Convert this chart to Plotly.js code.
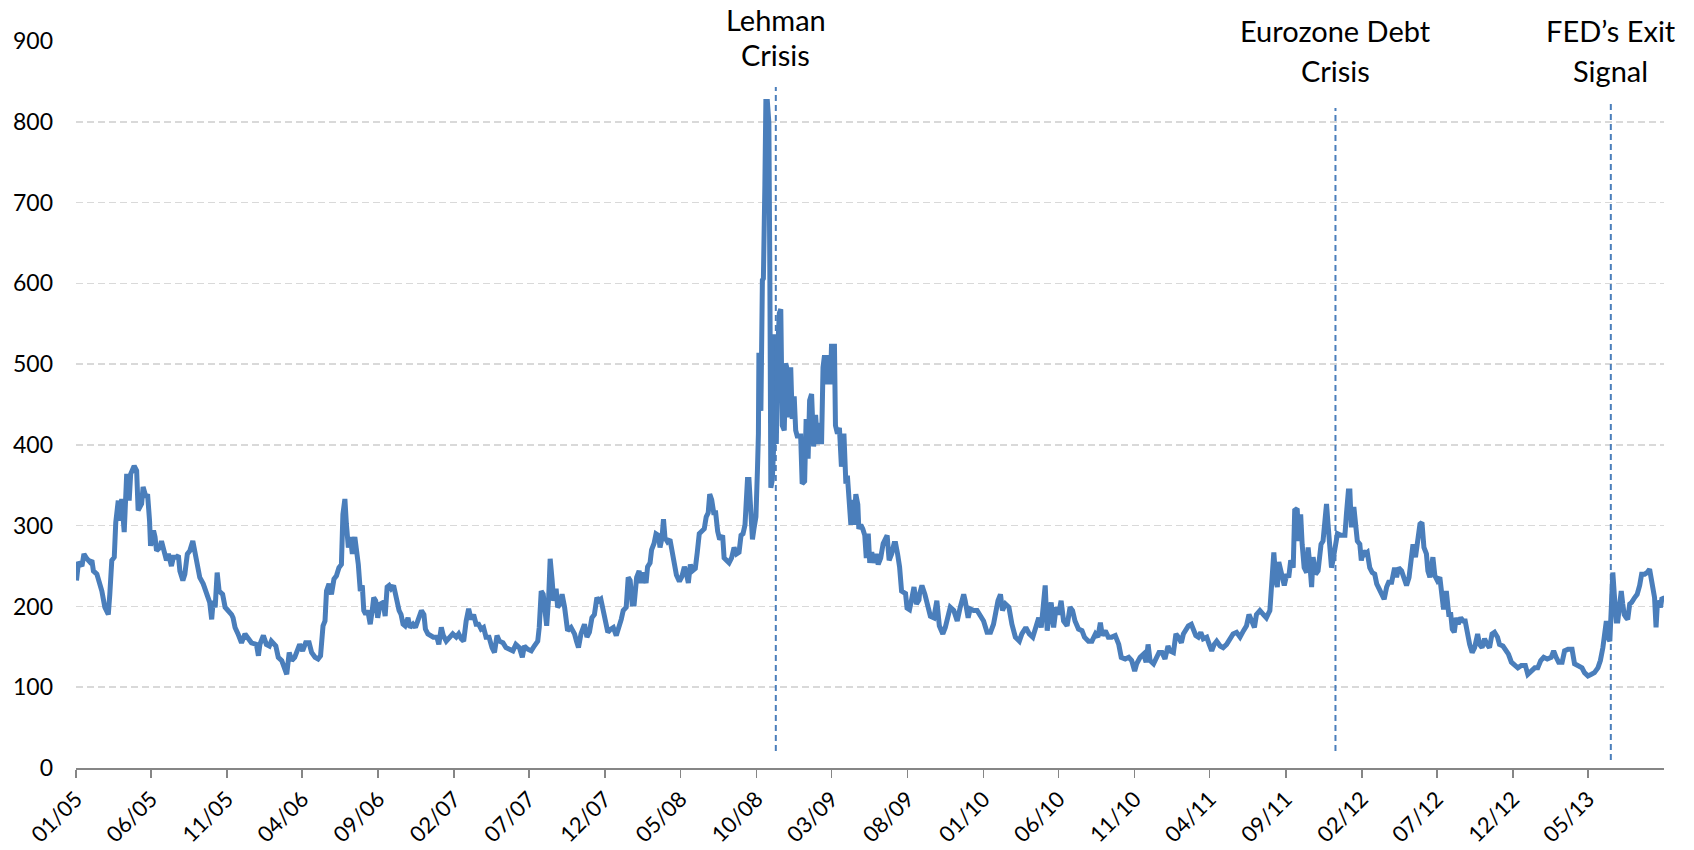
<!DOCTYPE html>
<html>
<head>
<meta charset="utf-8">
<script src="https://cdn.plot.ly/plotly-3.0.1.min.js"></script>
<style>html,body{margin:0;padding:0;background:#fff;}#chart{width:1694px;height:850px;}</style>
</head>
<body>
<div id="chart"></div>
<script>
// Observations: [days since 2005-01-01, spread value]
const obs2005_06 = [[1,232],[5,255],[12,250],[16,265],[22,259],[28,255],[32,257],[35,244],[42,240],[48,230],[52,219],[58,199],[65,190],[68,215],[72,257],[77,261],[80,304],[85,331],[89,306],[92,333],[97,292],[102,364],[107,331],[110,364],[117,374],[122,368],[125,319],[132,327],[135,348],[141,335],[144,339],[148,306],[150,275],[156,294],[159,286],[162,269],[169,273],[172,281],[177,265],[182,257],[186,265],[192,250],[196,261],[202,261],[206,263],[209,244],[215,232],[219,240],[224,265],[229,269],[235,281],[239,269],[243,257],[249,236],[256,228],[263,215],[269,205],[273,184],[276,207],[280,199],[284,242],[288,219],[295,215],[300,199],[306,195],[313,190],[316,186],[320,174],[326,166],[333,155],[340,166],[347,160],[353,155],[363,153],[367,139],[370,153],[377,164],[383,153],[389,151],[393,157],[402,151],[407,137],[414,133],[418,126],[424,116],[429,143],[434,133],[440,137],[445,145],[450,153],[456,145],[462,155],[469,155],[474,143],[481,137],[487,135],[492,139],[497,176],[501,182],[504,219],[509,228],[514,215],[519,234],[524,238],[529,248],[534,252],[537,314],[541,333],[544,302],[548,273],[552,286],[556,265],[561,286],[568,252]];
const obs2006_08 = [[572,219],[576,226],[579,195],[583,190],[587,195],[592,178],[596,195],[599,211],[603,207],[607,186],[612,203],[618,205],[622,188],[626,224],[630,226],[634,222],[639,226],[644,211],[650,195],[654,190],[658,178],[662,176],[668,186],[672,174],[678,178],[683,174],[689,186],[695,195],[700,190],[703,172],[708,166],[713,164],[719,162],[726,162],[730,153],[735,174],[739,164],[745,157],[752,162],[758,166],[765,162],[770,166],[775,160],[780,157],[785,182],[790,197],[795,184],[800,190],[805,178],[810,178],[815,172],[820,174],[825,162],[831,162],[837,149],[842,143],[847,164],[852,157],[859,155],[865,149],[872,147],[879,145],[885,153],[892,149],[898,137],[902,151],[909,147],[916,145],[922,151],[929,157],[932,174],[936,219],[940,215],[944,190],[947,176],[951,211],[954,259],[958,232],[961,207],[966,222],[969,199],[974,203],[978,215],[983,199],[989,170],[996,174],[1003,166],[1007,157],[1011,149],[1016,166],[1023,178],[1028,162],[1033,168],[1038,186],[1043,190],[1048,211],[1052,207],[1056,209],[1060,195],[1065,178],[1070,168],[1076,172],[1081,174],[1087,164],[1092,172],[1097,184],[1101,195],[1107,199],[1111,236],[1115,232],[1119,203],[1123,203],[1128,236],[1133,244]];
const obs2008_09 = [[1137,229],[1141,242],[1147,229],[1150,249],[1155,254],[1158,270],[1163,278],[1167,290],[1172,288],[1175,273],[1179,285],[1182,308],[1185,285],[1190,280],[1195,283],[1199,270],[1203,262],[1208,239],[1214,231],[1219,237],[1224,249],[1227,244],[1232,229],[1236,252],[1240,244],[1246,247],[1250,267],[1254,290],[1259,293],[1264,296],[1268,311],[1272,316],[1275,339],[1279,332],[1283,316],[1287,316],[1291,293],[1295,283],[1301,288],[1304,260],[1309,257],[1314,254],[1319,260],[1324,273],[1329,265],[1334,267],[1338,288],[1342,290],[1346,301],[1351,357],[1354,357],[1358,306],[1361,283],[1364,296],[1368,311],[1371,368],[1373,414],[1374,514],[1378,442],[1381,604],[1383,606],[1386,722],[1388,825],[1391,825],[1394,799],[1396,609],[1398,347],[1401,357],[1404,403],[1406,537],[1409,401],[1412,519],[1415,563],[1418,568],[1421,424],[1425,418],[1428,501],[1431,493],[1435,434],[1438,496],[1441,432],[1445,460],[1448,418],[1451,411],[1458,411],[1461,352],[1466,355],[1469,432],[1473,383],[1476,455],[1480,463],[1484,398],[1488,437],[1492,401],[1496,427],[1500,401],[1503,496],[1506,511],[1510,475],[1514,511],[1518,475],[1520,522],[1526,522],[1528,424],[1532,414],[1536,421],[1540,373],[1545,414],[1549,352],[1552,362],[1555,334],[1559,301],[1562,332],[1565,301],[1569,339],[1573,326],[1575,296],[1579,301],[1583,296],[1587,288],[1590,260],[1594,290],[1597,254],[1601,267],[1605,254],[1610,265],[1614,252],[1619,260],[1624,278],[1628,285],[1632,288],[1636,257],[1641,265],[1646,278],[1649,278],[1653,265],[1657,249],[1661,219],[1666,216],[1669,216],[1672,198],[1677,196],[1681,208],[1686,224],[1691,203],[1696,208]];
const obs2009_11 = [[1697,215],[1702,226],[1708,215],[1712,207],[1719,188],[1726,186],[1732,207],[1737,176],[1744,166],[1749,174],[1756,190],[1759,199],[1766,195],[1773,182],[1779,199],[1786,215],[1789,207],[1795,186],[1799,197],[1806,195],[1813,195],[1820,188],[1826,182],[1833,168],[1840,168],[1846,178],[1850,195],[1855,207],[1860,215],[1864,195],[1870,203],[1877,199],[1883,178],[1890,162],[1898,157],[1903,166],[1911,174],[1918,166],[1925,162],[1931,172],[1937,186],[1942,174],[1947,207],[1950,226],[1954,170],[1958,195],[1962,205],[1967,174],[1972,199],[1977,190],[1982,207],[1987,182],[1994,176],[2000,199],[2005,195],[2010,182],[2017,172],[2024,170],[2029,162],[2037,157],[2044,157],[2051,166],[2056,162],[2061,180],[2065,164],[2071,170],[2077,162],[2084,162],[2091,164],[2098,153],[2103,137],[2111,135],[2118,137],[2124,133],[2130,120],[2134,129],[2141,137],[2148,141],[2153,131],[2157,153],[2161,133],[2168,129],[2175,137],[2179,143],[2185,143],[2191,135],[2197,151],[2201,145],[2208,143],[2213,166],[2218,162],[2224,155],[2228,166],[2233,172],[2238,176],[2244,178],[2248,172],[2253,164],[2258,162]];
const obs2011_12 = [[2263,168],[2268,160],[2275,162],[2280,153],[2285,145],[2290,153],[2295,157],[2302,151],[2308,149],[2315,153],[2322,160],[2328,166],[2335,168],[2342,162],[2349,170],[2355,176],[2360,190],[2365,182],[2371,174],[2375,190],[2382,195],[2389,190],[2395,186],[2402,195],[2405,232],[2410,267],[2414,232],[2417,224],[2420,255],[2426,240],[2431,226],[2436,240],[2440,236],[2444,257],[2449,248],[2452,319],[2457,321],[2460,281],[2464,314],[2467,277],[2471,248],[2476,242],[2479,273],[2483,248],[2486,224],[2489,261],[2494,240],[2499,244],[2505,277],[2509,281],[2513,306],[2516,327],[2519,302],[2523,265],[2526,248],[2529,257],[2533,277],[2538,290],[2545,288],[2553,288],[2556,314],[2560,343],[2563,343],[2566,298],[2571,323],[2574,298],[2578,281],[2583,277],[2586,257],[2590,269],[2594,265],[2598,267],[2603,248],[2608,242],[2613,240],[2617,228],[2622,222],[2628,215],[2632,209],[2637,224],[2641,230],[2647,230],[2653,248],[2657,236],[2661,248],[2667,244],[2672,232],[2677,226],[2682,236],[2686,255],[2690,277],[2695,261],[2699,279],[2704,302],[2708,304],[2712,273],[2717,265],[2720,244],[2724,236],[2727,248],[2730,261],[2734,238],[2739,232],[2744,236],[2747,224],[2751,199],[2754,199],[2757,219],[2762,190],[2766,190],[2769,172],[2773,168],[2777,186],[2781,178],[2786,186],[2791,182],[2795,182],[2799,166],[2804,153],[2809,143],[2814,149],[2820,166]];
const obs2012_13 = [[2824,153],[2829,149],[2834,160],[2839,153],[2844,149],[2849,166],[2854,168],[2860,162],[2864,153],[2871,151],[2878,145],[2882,141],[2888,131],[2894,127],[2901,124],[2908,127],[2916,127],[2921,116],[2928,120],[2935,124],[2941,124],[2947,133],[2953,137],[2960,135],[2968,137],[2973,145],[2978,137],[2983,131],[2990,131],[2995,145],[3002,147],[3010,147],[3015,129],[3022,127],[3030,124],[3035,118],[3042,114],[3049,116],[3055,118],[3062,124],[3067,133],[3072,149],[3075,170],[3079,182],[3082,162],[3086,157],[3089,199],[3092,242],[3095,215],[3099,182],[3102,182],[3105,199],[3109,219],[3112,203],[3115,190],[3119,186],[3122,184],[3126,203],[3130,205],[3136,211],[3141,215],[3146,226],[3150,240],[3156,240],[3161,242],[3166,246],[3169,236],[3172,228],[3176,211],[3179,174],[3182,207],[3188,199],[3191,211],[3195,209]];

// Events: day offset, label lines, dashed line extent (value units)
const eventNames = [["Lehman", "Crisis"], ["Eurozone Debt", "Crisis"], ["FED\u2019s Exit", "Signal"]];
const eventDays = [1408, 2534, 3088];
const eventLineTop = [843, 817, 827];
const eventLineBottom = [21, 21, 10];

// Axis ticks: every 5 months from Jan 2005
const tickDates = ["2005-01-01","2005-06-01","2005-11-01","2006-04-01","2006-09-01","2007-02-01","2007-07-01","2007-12-01","2008-05-01","2008-10-01","2009-03-01","2009-08-01","2010-01-01","2010-06-01","2010-11-01","2011-04-01","2011-09-01","2012-02-01","2012-07-01","2012-12-01","2013-05-01"];
const tickLabels = ["01/05","06/05","11/05","04/06","09/06","02/07","07/07","12/07","05/08","10/08","03/09","08/09","01/10","06/10","11/10","04/11","09/11","02/12","07/12","12/12","05/13"];
const yTicks = [0,100,200,300,400,500,600,700,800,900];

const BASE = Date.UTC(2005, 0, 1);
function dayToDate(d) { return new Date(BASE + d * 86400000).toISOString().slice(0, 10); }

const all = [].concat(obs2005_06, obs2006_08, obs2008_09, obs2009_11, obs2011_12, obs2012_13);
const xs = all.map(p => dayToDate(p[0]));
const ys = all.map(p => p[1]);

const FONT = "Lato, 'Open Sans', 'DejaVu Sans', sans-serif";
const BLUE = "#4a7ebb";

const shapes = eventDays.map((d, i) => ({
  type: "line", xref: "x", yref: "y",
  x0: dayToDate(d), x1: dayToDate(d), y0: eventLineBottom[i], y1: eventLineTop[i],
  line: {color: BLUE, width: 2, dash: "6px,4px"}
}));

const labelY1 = [1.0289, 1.0140, 1.0140];
const labelY2 = [0.9810, 0.9600, 0.9600];
const annotations = [];
eventDays.forEach((d, i) => {
  [labelY1[i], labelY2[i]].forEach((yy, j) => {
    annotations.push({
      x: dayToDate(d), y: yy, xref: "x", yref: "paper",
      text: eventNames[i][j], showarrow: false,
      xanchor: "center", yanchor: "middle",
      font: {family: FONT, size: 29, color: "#000"}
    });
  });
});

const layout = {
  width: 1694, height: 850,
  margin: {l: 76, r: 30, t: 41, b: 82},
  paper_bgcolor: "#fff", plot_bgcolor: "#fff",
  showlegend: false,
  xaxis: {
    type: "date",
    range: [dayToDate(0), dayToDate(3195)],
    tickmode: "array", tickvals: tickDates, ticktext: tickLabels,
    tickangle: -45,
    ticks: "outside", ticklen: 8, tickwidth: 1.5, tickcolor: "#868686",
    showline: true, linecolor: "#868686", linewidth: 1.5,
    showgrid: false, zeroline: false,
    tickfont: {family: FONT, size: 22, color: "#000"}
  },
  yaxis: {
    range: [0, 900], tickmode: "array", tickvals: yTicks,
    showgrid: true, gridcolor: "#d9d9d9", gridwidth: 1.5, griddash: "7px,4px",
    zeroline: false, showline: false, ticks: "",
    ticklabelstandoff: 22,
    tickfont: {family: FONT, size: 23, color: "#000"}
  },
  shapes: shapes,
  annotations: annotations
};

const trace = {
  x: xs, y: ys, type: "scatter", mode: "lines",
  line: {color: BLUE, width: 5},
  hoverinfo: "x+y"
};

Plotly.newPlot("chart", [trace], layout, {displayModeBar: false, staticPlot: true});
</script>
</body>
</html>
